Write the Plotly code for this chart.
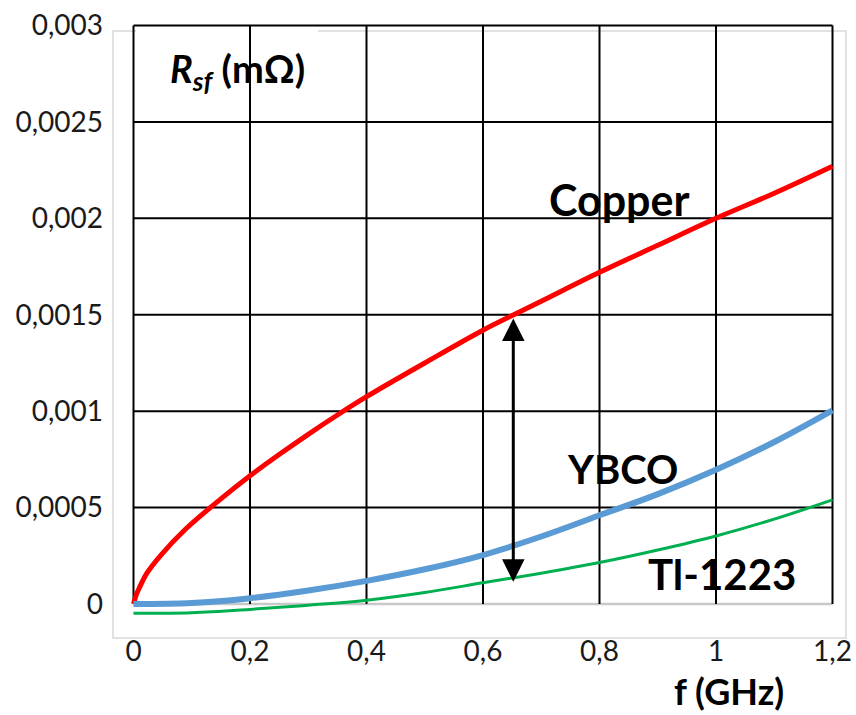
import plotly.graph_objects as go

# ---- data ----
f_copper = [0, 0.005, 0.011, 0.023, 0.046, 0.09, 0.15, 0.2, 0.25, 0.3, 0.35, 0.4, 0.5, 0.6, 0.7, 0.8, 0.9, 1.0, 1.1, 1.2]
r_copper = [0, 0.00005, 0.00009, 0.00016, 0.00025, 0.00039, 0.000545, 0.000665, 0.000775, 0.00088, 0.00098, 0.001075,
            0.00125, 0.00142, 0.00157, 0.00172, 0.00186, 0.002, 0.00213, 0.00227]

f_sc = [0, 0.1, 0.2, 0.3, 0.4, 0.5, 0.6, 0.7, 0.8, 0.9, 1.0, 1.1, 1.2]
r_ybco = [0, 0.000005, 0.00003, 0.00007, 0.00012, 0.00018, 0.000254, 0.00035, 0.00046, 0.00057, 0.000696, 0.00084, 0.001004]
r_tl = [-0.000048, -0.000045, -0.000028, -0.000006, 0.00002, 0.00006, 0.00011, 0.00016, 0.000215, 0.00028,
        0.000353, 0.00044, 0.00054]

x_ticks = [0, 0.2, 0.4, 0.6, 0.8, 1.0, 1.2]
x_tick_labels = ["0", "0,2", "0,4", "0,6", "0,8", "1", "1,2"]
y_ticks = [0, 0.0005, 0.001, 0.0015, 0.002, 0.0025, 0.003]
y_tick_labels = ["0", "0,0005", "0,001", "0,0015", "0,002", "0,0025", "0,003"]

arrow_f = 0.652
arrow_top = 0.00148
arrow_bottom = 0.000107

# ---- layout geometry (page body margin removed via post_script) ----
OFF = 0
W, H = 856, 715
L, R, T, B = 110, 6, 20, 85
PW, PH = W - L - R, H - T - B


def px_x(p):
    """screen pixel x -> paper"""
    return (p - OFF - L) / PW


def px_y(p):
    """screen pixel y -> paper"""
    return (H - B - (p - OFF)) / PH


FONT = "Lato"

fig = go.Figure()

fig.add_trace(go.Scatter(x=f_copper, y=r_copper, mode="lines", line=dict(color="#ff0000", width=5, shape="spline"),
                         name="Copper", hoverinfo="skip"))
fig.add_trace(go.Scatter(x=f_sc, y=r_tl, mode="lines", line=dict(color="#00b050", width=3, shape="spline"),
                         name="Tl-1223", hoverinfo="skip"))
fig.add_trace(go.Scatter(x=f_sc, y=r_ybco, mode="lines", line=dict(color="#5b9bd5", width=6, shape="spline"),
                         name="YBCO", hoverinfo="skip"))

shapes = []
# light grey outer frame
shapes.append(dict(type="rect", xref="paper", yref="paper", x0=px_x(113), x1=px_x(846), y0=px_y(638), y1=px_y(31),
                   line=dict(color="#d9d9d9", width=1.5), layer="below"))
# zero line (grey)
shapes.append(dict(type="line", xref="x", yref="y", x0=x_ticks[0], x1=x_ticks[-1], y0=0, y1=0,
                   line=dict(color="#c8c8c8", width=2.5), layer="below"))
# black grid
for xv in x_ticks:
    shapes.append(dict(type="line", xref="x", yref="y", x0=xv, x1=xv, y0=y_ticks[0], y1=y_ticks[-1],
                       line=dict(color="black", width=2), layer="below"))
for yv in y_ticks[1:]:
    shapes.append(dict(type="line", xref="x", yref="y", x0=x_ticks[0], x1=x_ticks[-1], y0=yv, y1=yv,
                       line=dict(color="black", width=2), layer="below"))
# white box behind the axis-title label
shapes.append(dict(type="rect", xref="paper", yref="paper", x0=px_x(136), x1=px_x(318), y0=px_y(104), y1=px_y(29),
                   line=dict(width=0), fillcolor="white", layer="below"))

annotations = [
    dict(x=arrow_f, y=arrow_top, ax=arrow_f, ay=arrow_bottom, xref="x", yref="y", axref="x", ayref="y",
         showarrow=True, arrowhead=2, startarrowhead=2, arrowside="end+start", arrowwidth=3, arrowsize=1.5,
         startarrowsize=1.5, arrowcolor="black", text=""),
    dict(x=px_x(619), y=px_y(199), xref="paper", yref="paper", text="<b>Copper</b>", showarrow=False,
         font=dict(family=FONT, size=43, color="black"), xanchor="center", yanchor="middle"),
    dict(x=px_x(622), y=px_y(469), xref="paper", yref="paper", text="<b>YBCO</b>", showarrow=False,
         font=dict(family=FONT, size=40, color="black"), xanchor="center", yanchor="middle"),
    dict(x=px_x(722), y=px_y(574), xref="paper", yref="paper", text="<b>Tl-1223</b>", showarrow=False,
         font=dict(family=FONT, size=42, color="black"), xanchor="center", yanchor="middle"),
    dict(x=px_x(729), y=px_y(691), xref="paper", yref="paper", text="<b>f (GHz)</b>", showarrow=False,
         font=dict(family=FONT, size=36, color="black"), xanchor="center", yanchor="middle"),
    dict(x=px_x(237), y=px_y(71), xref="paper", yref="paper",
         text="<b><i>R</i></b><sub><b><i>sf</i></b></sub><b> (mΩ)</b>", showarrow=False,
         font=dict(family=FONT, size=38, color="black"), xanchor="center", yanchor="middle"),
]

# axis ranges so that f=0 sits at screen x 133.5, f=1.2 at 832.5, R=0 at y 604, R=0.003 at y 25.5
sx = 582.5
x_min = -(133.5 - OFF - L) / sx
x_max = x_min + PW / sx
sy = 578.5 / 0.003
y_min = -((H - B + OFF) - 604) / sy
y_max = 0.003 + (25.5 - OFF - T) / sy

fig.update_layout(
    width=W, height=H,
    margin=dict(l=L, r=R, t=T, b=B, autoexpand=False),
    paper_bgcolor="white", plot_bgcolor="white",
    showlegend=False,
    hovermode=False,
    shapes=shapes,
    annotations=annotations,
    xaxis=dict(range=[x_min, x_max], tickvals=x_ticks, ticktext=x_tick_labels, showgrid=False, zeroline=False,
               showline=False, ticks="", automargin=False, ticklabeloverflow="allow",
               tickfont=dict(family=FONT, size=28, color="#1a1a1a"), ticklabelstandoff=2),
    yaxis=dict(range=[y_min, y_max], tickvals=y_ticks, ticktext=y_tick_labels, showgrid=False, zeroline=False,
               showline=False, ticks="", automargin=False, ticklabeloverflow="allow",
               tickfont=dict(family=FONT, size=28, color="#1a1a1a"), ticklabelstandoff=6),
)

fig.write_html("out.html", config={"displayModeBar": False},
               post_script="document.body.style.margin='0';document.body.style.overflow='hidden';")
